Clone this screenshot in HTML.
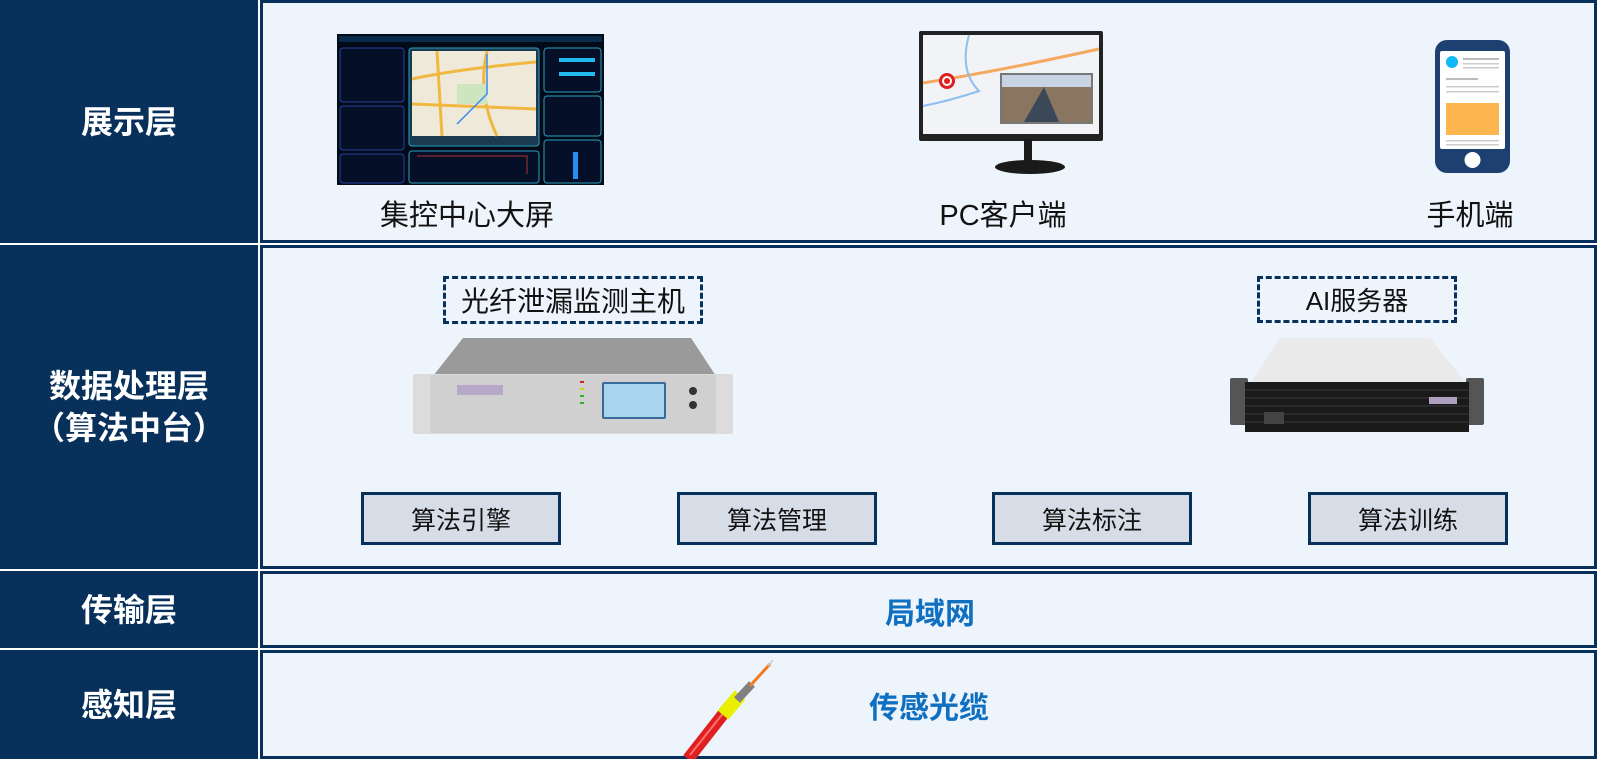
<!DOCTYPE html>
<html><head><meta charset="utf-8"><style>
*{margin:0;padding:0;box-sizing:border-box}
body{width:1597px;height:759px;background:#fff;position:relative;overflow:hidden;font-family:"Liberation Sans","Noto Sans CJK SC",sans-serif}
.abs{position:absolute}
.lc{position:absolute;left:0;width:258px;background:#07305a;color:#fff;font-weight:bold;font-size:32px;display:flex;align-items:center;justify-content:center;text-align:center;line-height:42px}
.pn{position:absolute;left:260px;width:1337px;background:#eef4fb;border:3px solid #07305a}
.t{position:absolute;font-size:29px;color:#111;white-space:nowrap;transform:translateX(-50%)}
.dash{position:absolute;border:3px dashed #07305a;font-size:26px;color:#111;display:flex;align-items:center;justify-content:center}
.box{position:absolute;top:492px;height:53px;width:200px;background:#d6dde7;border:3px solid #07305a;font-size:25px;color:#111;display:flex;align-items:center;justify-content:center}
.blue{position:absolute;color:#0f6fc0;font-weight:bold;font-size:30px;transform:translate(-50%,-50%);white-space:nowrap}
</style></head><body>
<div class="lc" style="top:0;height:243px">展示层</div>
<div class="lc" style="top:245px;height:324px">数据处理层<br>（算法中台）</div>
<div class="lc" style="top:571px;height:77px">传输层</div>
<div class="lc" style="top:650px;height:109px">感知层</div>

<div class="pn" style="top:0;height:243px"></div>
<div class="pn" style="top:245px;height:324px"></div>
<div class="pn" style="top:571px;height:77px"></div>
<div class="pn" style="top:650px;height:109px"></div>

<!-- dashboard -->
<svg class="abs" style="left:337px;top:34px" width="267" height="151" viewBox="0 0 267 151">
<rect width="267" height="151" fill="#020a18"/>
<rect x="2" y="2" width="263" height="6" fill="#0a2a4a"/>
<rect x="3" y="14" width="64" height="54" fill="#050f28" stroke="#2840a0" rx="3"/>
<rect x="3" y="72" width="64" height="44" fill="#050f28" stroke="#2840a0" rx="3"/>
<rect x="3" y="120" width="64" height="29" fill="#050f28" stroke="#2840a0" rx="3"/>
<rect x="72" y="14" width="130" height="98" fill="#1a3a50" stroke="#2aa0c0" rx="3"/>
<rect x="75" y="17" width="124" height="85" fill="#eee9d8"/>
<path d="M75 45 Q120 35 199 28 M100 17 L105 102 M75 70 L199 75 M150 17 Q140 60 160 102" stroke="#f0b840" stroke-width="3" fill="none"/>
<rect x="120" y="50" width="30" height="20" fill="#cde6c0"/>
<path d="M150 20 L150 60 L120 90" stroke="#3a8af0" stroke-width="1.5" fill="none"/>
<rect x="72" y="117" width="130" height="32" fill="#050f28" stroke="#2aa0c0" rx="3"/>
<path d="M80 122 H190 V140" stroke="#b03030" fill="none"/>
<rect x="207" y="14" width="57" height="44" fill="#050f28" stroke="#2aa0c0" rx="3"/>
<rect x="222" y="24" width="36" height="4" fill="#22b8f0"/><rect x="222" y="38" width="36" height="4" fill="#22b8f0"/>
<rect x="207" y="62" width="57" height="40" fill="#050f28" stroke="#2aa0c0" rx="3"/>
<rect x="207" y="106" width="57" height="43" fill="#050f28" stroke="#2aa0c0" rx="3"/>
<rect x="236" y="118" width="5" height="27" fill="#2a8ef0"/>
</svg>
<div class="t" style="left:467px;top:192px">集控中心大屏</div>

<!-- PC monitor -->
<svg class="abs" style="left:919px;top:31px" width="184" height="145" viewBox="0 0 184 145">
<rect x="0" y="0" width="184" height="110" fill="#222" rx="2"/>
<rect x="4" y="4" width="176" height="99" fill="#f2f3f6"/>
<path d="M4 52 Q80 40 180 18" stroke="#f4a860" stroke-width="3" fill="none"/>
<path d="M50 4 Q40 40 60 60 Q30 70 4 75" stroke="#8cc0f0" stroke-width="2" fill="none"/>
<circle cx="28" cy="50" r="8" fill="#e02020"/><circle cx="28" cy="50" r="5" fill="#fff"/><circle cx="28" cy="50" r="3" fill="#e02020"/>
<rect x="81" y="42" width="93" height="51" fill="#777"/>
<rect x="83" y="44" width="89" height="47" fill="#8a7560"/>
<rect x="83" y="44" width="89" height="12" fill="#c8d4e4"/>
<path d="M105 91 L125 56 L140 91Z" fill="#3a4858"/>
<rect x="105" y="108" width="8" height="24" fill="#1a1a1a"/>
<ellipse cx="111" cy="136" rx="35" ry="7" fill="#1a1a1a"/>
</svg>
<div class="t" style="left:1003px;top:192px">PC客户端</div>

<!-- phone -->
<svg class="abs" style="left:1435px;top:40px" width="75" height="133" viewBox="0 0 75 133">
<rect width="75" height="133" rx="12" fill="#1d4070"/>
<rect x="5" y="11" width="65" height="98" fill="#fff" rx="2"/>
<circle cx="17" cy="22" r="6" fill="#10b8f8"/>
<rect x="28" y="18" width="36" height="2" fill="#bbb"/><rect x="28" y="23" width="36" height="1.5" fill="#ccc"/><rect x="28" y="27" width="36" height="1.5" fill="#ccc"/>
<rect x="11" y="38" width="32" height="2" fill="#bbb"/><rect x="11" y="46" width="53" height="1.5" fill="#ccc"/><rect x="11" y="51" width="53" height="1.5" fill="#ccc"/>
<rect x="11" y="63" width="53" height="32" fill="#fdb54f"/>
<rect x="11" y="100" width="53" height="1.5" fill="#ccc"/><rect x="11" y="104" width="53" height="1.5" fill="#ccc"/>
<circle cx="37.5" cy="120" r="8" fill="#fff"/>
</svg>
<div class="t" style="left:1470px;top:192px">手机端</div>

<!-- data layer -->
<div class="dash" style="left:443px;top:276px;width:260px;height:48px;font-size:28px">光纤泄漏监测主机</div>
<div class="dash" style="left:1257px;top:276px;width:200px;height:47px">AI服务器</div>

<svg class="abs" style="left:413px;top:338px" width="320" height="96" viewBox="0 0 320 96">
<path d="M20 38 L50 0 L278 0 L303 38Z" fill="#9a9a9a"/>
<rect x="0" y="36" width="320" height="60" fill="#dcdcdc" rx="2"/>
<rect x="17" y="37" width="286" height="58" fill="#d0d0d0"/>
<rect x="44" y="47" width="46" height="10" fill="#b8a8c8"/>
<rect x="167" y="43" width="4" height="2" fill="#d02020"/><rect x="167" y="50" width="4" height="2" fill="#d0d020"/>
<rect x="167" y="57" width="4" height="2" fill="#30b030"/><rect x="167" y="64" width="4" height="2" fill="#30b030"/>
<rect x="189" y="44" width="64" height="37" fill="#3a6a9a" rx="2"/>
<rect x="191" y="46" width="60" height="33" fill="#a8d4f0"/>
<circle cx="280" cy="53" r="4" fill="#333"/><circle cx="280" cy="67" r="4" fill="#333"/>
</svg>

<svg class="abs" style="left:1230px;top:338px" width="254" height="96" viewBox="0 0 254 96">
<path d="M20 46 L50 0 L200 0 L237 46Z" fill="#eaeaea"/>
<rect x="0" y="40" width="18" height="47" fill="#555" rx="2"/>
<rect x="236" y="40" width="18" height="47" fill="#555" rx="2"/>
<rect x="15" y="44" width="224" height="50" fill="#1a1a1a"/>
<g stroke="#3a3a3a" stroke-width="1"><line x1="15" y1="52" x2="239" y2="52"/><line x1="15" y1="60" x2="239" y2="60"/><line x1="15" y1="68" x2="239" y2="68"/><line x1="15" y1="76" x2="239" y2="76"/><line x1="15" y1="84" x2="239" y2="84"/></g>
<rect x="199" y="59" width="28" height="7" fill="#b0a0c0"/>
<rect x="34" y="74" width="20" height="12" fill="#444"/>
</svg>

<div class="box" style="left:361px">算法引擎</div>
<div class="box" style="left:677px">算法管理</div>
<div class="box" style="left:992px">算法标注</div>
<div class="box" style="left:1308px">算法训练</div>

<div class="blue" style="left:930px;top:611px">局域网</div>

<svg class="abs" style="left:680px;top:650px" width="120" height="109" viewBox="0 0 120 109">
<line x1="8" y1="109" x2="48" y2="58" stroke="#e02020" stroke-width="12"/>
<line x1="10" y1="105" x2="48" y2="57" stroke="#ff7070" stroke-width="2"/>
<line x1="43" y1="65" x2="60" y2="45" stroke="#e8f000" stroke-width="14"/>
<line x1="57" y1="50" x2="72" y2="34" stroke="#808080" stroke-width="8"/>
<line x1="70" y1="36" x2="90" y2="14" stroke="#f07a20" stroke-width="3"/>
<line x1="88" y1="16" x2="93" y2="10" stroke="#ccc" stroke-width="1.5"/>
</svg>
<div class="blue" style="left:929px;top:705px">传感光缆</div>
</body></html>
